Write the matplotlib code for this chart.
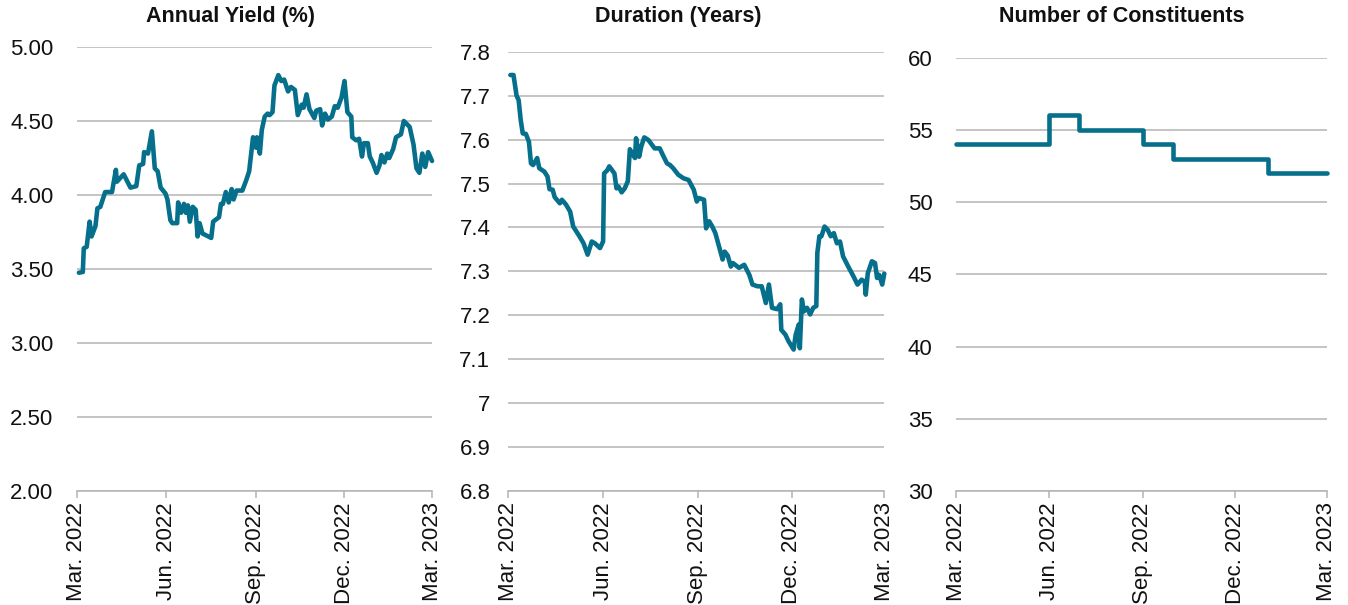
import pandas as pd
import matplotlib.pyplot as plt
from matplotlib.ticker import FuncFormatter

plt.rcParams['font.family'] = ['Liberation Sans', 'DejaVu Sans']

# Annual yield (%)
yield_dates = [
    "2022-03-03", "2022-03-07", "2022-03-08", "2022-03-11", "2022-03-14", "2022-03-16",
    "2022-03-20", "2022-03-22", "2022-03-25", "2022-03-30", "2022-04-06", "2022-04-10",
    "2022-04-11", "2022-04-18", "2022-04-25", "2022-05-01", "2022-05-04", "2022-05-08",
    "2022-05-09", "2022-05-13", "2022-05-17", "2022-05-20", "2022-05-23", "2022-05-26",
    "2022-05-31", "2022-06-02", "2022-06-05", "2022-06-07", "2022-06-12", "2022-06-13",
    "2022-06-16", "2022-06-19", "2022-06-21", "2022-06-23", "2022-06-25", "2022-06-28",
    "2022-07-01", "2022-07-03", "2022-07-05", "2022-07-08", "2022-07-11", "2022-07-17",
    "2022-07-19", "2022-07-25", "2022-07-27", "2022-07-29", "2022-08-01", "2022-08-04",
    "2022-08-07", "2022-08-09", "2022-08-12", "2022-08-18", "2022-08-22", "2022-08-25",
    "2022-08-29", "2022-09-01", "2022-09-02", "2022-09-05", "2022-09-07", "2022-09-10",
    "2022-09-13", "2022-09-15", "2022-09-18", "2022-09-20", "2022-09-24", "2022-09-27",
    "2022-09-30", "2022-10-04", "2022-10-07", "2022-10-11", "2022-10-14", "2022-10-18",
    "2022-10-20", "2022-10-23", "2022-10-26", "2022-10-31", "2022-11-02", "2022-11-06",
    "2022-11-08", "2022-11-11", "2022-11-14", "2022-11-18", "2022-11-21", "2022-11-24",
    "2022-11-28", "2022-12-01", "2022-12-04", "2022-12-08", "2022-12-09", "2022-12-13",
    "2022-12-16", "2022-12-19", "2022-12-21", "2022-12-25", "2022-12-27", "2022-12-30",
    "2023-01-03", "2023-01-06", "2023-01-08", "2023-01-11", "2023-01-14", "2023-01-16",
    "2023-01-20", "2023-01-23", "2023-01-28", "2023-01-31", "2023-02-03", "2023-02-06",
    "2023-02-10", "2023-02-13", "2023-02-16", "2023-02-19", "2023-02-22", "2023-02-25",
    "2023-03-01",
]
yield_values = [
    3.475, 3.48, 3.64, 3.65, 3.82, 3.72,
    3.79, 3.91, 3.92, 4.02, 4.02, 4.17,
    4.09, 4.14, 4.05, 4.06, 4.20, 4.21,
    4.29, 4.28, 4.43, 4.18, 4.16, 4.05,
    4.01, 3.97, 3.83, 3.81, 3.81, 3.95,
    3.88, 3.94, 3.88, 3.93, 3.82, 3.92,
    3.90, 3.72, 3.81, 3.74, 3.73, 3.71,
    3.82, 3.85, 3.94, 3.94, 4.02, 3.95,
    4.04, 3.97, 4.03, 4.03, 4.10, 4.16,
    4.39, 4.32, 4.39, 4.28, 4.44, 4.53,
    4.55, 4.54, 4.56, 4.74, 4.81, 4.77,
    4.78, 4.70, 4.73, 4.71, 4.54, 4.61,
    4.59, 4.68, 4.58, 4.52, 4.57, 4.58,
    4.47, 4.55, 4.51, 4.53, 4.60, 4.59,
    4.66, 4.77, 4.56, 4.53, 4.39, 4.37,
    4.38, 4.26, 4.35, 4.35, 4.26, 4.22,
    4.15, 4.20, 4.27, 4.22, 4.28, 4.25,
    4.31, 4.39, 4.41, 4.50, 4.48, 4.46,
    4.34, 4.18, 4.15, 4.28, 4.19, 4.29,
    4.23,
]

# Duration (years)
duration_dates = [
    "2022-03-03", "2022-03-06", "2022-03-09", "2022-03-11", "2022-03-13", "2022-03-15",
    "2022-03-18", "2022-03-21", "2022-03-23", "2022-03-25", "2022-03-29", "2022-03-31",
    "2022-04-05", "2022-04-08", "2022-04-10", "2022-04-13", "2022-04-15", "2022-04-20",
    "2022-04-22", "2022-04-26", "2022-04-30", "2022-05-03", "2022-05-09", "2022-05-13",
    "2022-05-17", "2022-05-21", "2022-05-24", "2022-05-29", "2022-06-01", "2022-06-02",
    "2022-06-05", "2022-06-07", "2022-06-12", "2022-06-14", "2022-06-16", "2022-06-19",
    "2022-06-22", "2022-06-25", "2022-06-27", "2022-06-29", "2022-07-02", "2022-07-03",
    "2022-07-06", "2022-07-08", "2022-07-11", "2022-07-15", "2022-07-21", "2022-07-26",
    "2022-07-29", "2022-08-02", "2022-08-05", "2022-08-08", "2022-08-13", "2022-08-18",
    "2022-08-23", "2022-08-28", "2022-08-31", "2022-09-02", "2022-09-07", "2022-09-09",
    "2022-09-12", "2022-09-15", "2022-09-18", "2022-09-22", "2022-09-25", "2022-09-27",
    "2022-09-30", "2022-10-03", "2022-10-05", "2022-10-11", "2022-10-16", "2022-10-21",
    "2022-10-24", "2022-10-29", "2022-11-02", "2022-11-06", "2022-11-09", "2022-11-12",
    "2022-11-17", "2022-11-20", "2022-11-21", "2022-11-25", "2022-11-28", "2022-12-03",
    "2022-12-05", "2022-12-08", "2022-12-09", "2022-12-11", "2022-12-13", "2022-12-16",
    "2022-12-19", "2022-12-22", "2022-12-25", "2022-12-26", "2022-12-28", "2022-12-30",
    "2023-01-02", "2023-01-05", "2023-01-08", "2023-01-11", "2023-01-14", "2023-01-17",
    "2023-01-20", "2023-01-25", "2023-01-30", "2023-02-03", "2023-02-07", "2023-02-10",
    "2023-02-11", "2023-02-13", "2023-02-17", "2023-02-20", "2023-02-22", "2023-02-24",
    "2023-02-27", "2023-03-01",
]
duration_values = [
    7.747, 7.747, 7.70, 7.69, 7.645, 7.614,
    7.613, 7.595, 7.546, 7.542, 7.558, 7.535,
    7.527, 7.516, 7.487, 7.486, 7.469, 7.455,
    7.463, 7.452, 7.436, 7.402, 7.380, 7.364,
    7.338, 7.368, 7.364, 7.353, 7.368, 7.523,
    7.530, 7.539, 7.523, 7.489, 7.493, 7.480,
    7.489, 7.505, 7.578, 7.569, 7.558, 7.603,
    7.561, 7.584, 7.605, 7.599, 7.580, 7.580,
    7.565, 7.546, 7.542, 7.535, 7.520, 7.512,
    7.508, 7.486, 7.459, 7.467, 7.463, 7.398,
    7.414, 7.402, 7.387, 7.353, 7.327, 7.345,
    7.336, 7.311, 7.319, 7.308, 7.315, 7.292,
    7.270, 7.266, 7.266, 7.228, 7.270, 7.217,
    7.214, 7.225, 7.167, 7.156, 7.141, 7.122,
    7.156, 7.179, 7.125, 7.236, 7.209, 7.217,
    7.202, 7.217, 7.221, 7.342, 7.380, 7.380,
    7.402, 7.395, 7.380, 7.387, 7.364, 7.368,
    7.334, 7.311, 7.289, 7.270, 7.281, 7.277,
    7.247, 7.296, 7.323, 7.319, 7.285, 7.292,
    7.270, 7.295,
]

# Number of constituents (step changes)
count_dates = ["2022-03-01", "2022-06-01", "2022-06-30", "2022-09-01",
               "2022-10-01", "2023-01-02", "2023-03-01"]
count_values = [54, 56, 55, 54, 53, 52, 52]

titles = ["Annual Yield (%)", "Duration (Years)", "Number of Constituents"]
tick_dates = ["2022-03-01", "2022-06-01", "2022-09-01", "2022-12-01", "2023-03-01"]
tick_labels = ["Mar. 2022", "Jun. 2022", "Sep. 2022", "Dec. 2022", "Mar. 2023"]

line_color = "#06708c"
grid_color = "#b4b4b4"
text_color = "#111111"

fig = plt.figure(figsize=(13.48, 6.05), dpi=100)

# axes boxes [left, bottom, width, height] and title x centre
boxes = [
    [0.0571, 0.1884, 0.2634, 0.7339],
    [0.3771, 0.1884, 0.2789, 0.7261],
    [0.7092, 0.1884, 0.2750, 0.7162],
]
title_x = [0.171, 0.503, 0.832]

series = [
    (yield_dates, yield_values, (2.0, 5.0), [2.0, 2.5, 3.0, 3.5, 4.0, 4.5, 5.0], "{:.2f}", "default"),
    (duration_dates, duration_values, (6.8, 7.8), [6.8, 6.9, 7.0, 7.1, 7.2, 7.3, 7.4, 7.5, 7.6, 7.7, 7.8], "{:g}", "default"),
    (count_dates, count_values, (30, 60), [30, 35, 40, 45, 50, 55, 60], "{:g}", "steps-post"),
]

for i, (dates, vals, ylim, yticks, fmt, ds) in enumerate(series):
    ax = fig.add_axes(boxes[i])
    ax.plot(pd.to_datetime(dates), vals, color=line_color, lw=3.3,
            drawstyle=ds, solid_joinstyle='round', solid_capstyle='round', clip_on=False)
    ax.set_xlim(pd.Timestamp("2022-03-01"), pd.Timestamp("2023-03-01"))
    ax.set_ylim(*ylim)
    ax.set_yticks(yticks)
    ax.yaxis.set_major_formatter(FuncFormatter(lambda v, p, f=fmt: f.format(round(v, 2))))
    ax.set_xticks(pd.to_datetime(tick_dates))
    ax.set_xticklabels(tick_labels, rotation=90, ha='center', va='top')
    ax.grid(axis='y', color=grid_color, lw=1.1)
    ax.set_axisbelow(True)
    for s in ['top', 'right', 'left']:
        ax.spines[s].set_visible(False)
    ax.spines['bottom'].set_color(grid_color)
    ax.spines['bottom'].set_linewidth(1.1)
    ax.tick_params(axis='y', length=0, pad=17 if i != 1 else 13, labelsize=16, labelcolor=text_color)
    ax.tick_params(axis='x', length=5, width=1.1, color=grid_color, pad=3,
                   labelsize=16, labelcolor=text_color)
    fig.text(title_x[i], 0.972, titles[i], ha='center', va='center',
             fontsize=15.5, fontweight='bold', color=text_color)

fig.savefig("out.png", dpi=100)
